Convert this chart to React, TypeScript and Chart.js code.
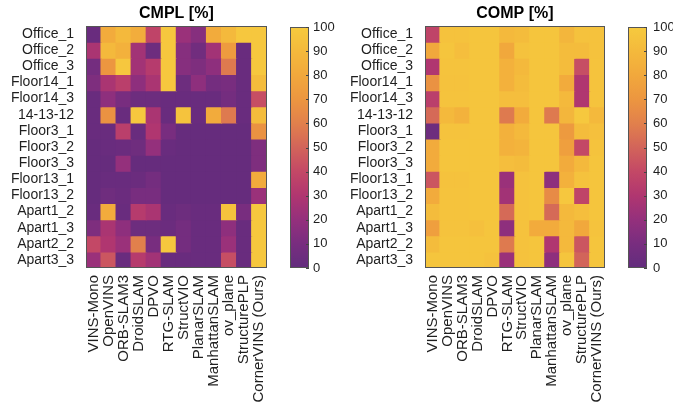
import { useEffect, useRef } from 'react';
import { Chart, registerables } from 'chart.js';
Chart.register(...registerables);

const methods = ['VINS-Mono', 'OpenVINS', 'ORB-SLAM3', 'DroidSLAM', 'DPVO', 'RTG-SLAM', 'StructVIO', 'PlanarSLAM', 'ManhattanSLAM', 'ov_plane', 'StructurePLP', 'CornerVINS (Ours)'];
const sequences = ['Office_1', 'Office_2', 'Office_3', 'Floor14_1', 'Floor14_3', '14-13-12', 'Floor3_1', 'Floor3_2', 'Floor3_3', 'Floor13_1', 'Floor13_2', 'Apart1_2', 'Apart1_3', 'Apart2_2', 'Apart3_3'];

// CMPL [%], one row per sequence, one value per method
const cmpl: number[][] = [
  [3, 82, 90, 83, 38, 98, 22, 15, 82, 90, 98, 98],
  [28, 90, 85, 25, 5, 98, 15, 7, 25, 73, 3, 98],
  [8, 70, 98, 25, 33, 98, 15, 12, 18, 58, 3, 98],
  [12, 28, 35, 18, 28, 98, 5, 18, 8, 10, 3, 92],
  [3, 18, 10, 5, 5, 3, 3, 3, 3, 8, 3, 42],
  [3, 68, 3, 98, 28, 3, 96, 3, 82, 58, 3, 92],
  [3, 3, 35, 3, 30, 10, 2, 2, 2, 2, 2, 68],
  [2, 3, 4, 6, 20, 3, 2, 2, 2, 2, 2, 12],
  [2, 2, 20, 2, 2, 2, 2, 2, 2, 2, 2, 12],
  [2, 3, 3, 4, 8, 2, 2, 2, 2, 2, 2, 82],
  [2, 6, 4, 10, 10, 2, 2, 2, 2, 2, 2, 22],
  [3, 82, 3, 33, 28, 3, 5, 3, 3, 95, 10, 98],
  [12, 28, 18, 5, 5, 4, 8, 3, 3, 18, 3, 98],
  [40, 30, 22, 60, 10, 98, 8, 3, 3, 22, 3, 98],
  [22, 45, 3, 33, 25, 3, 3, 3, 3, 42, 3, 98],
];

// COMP [%]
const comp: number[][] = [
  [38, 95, 95, 97, 97, 90, 92, 97, 97, 88, 95, 95],
  [80, 97, 93, 97, 97, 80, 95, 97, 97, 92, 92, 95],
  [30, 96, 96, 97, 97, 85, 90, 97, 97, 92, 42, 96],
  [68, 95, 95, 97, 97, 85, 92, 97, 97, 82, 30, 96],
  [35, 96, 96, 97, 97, 93, 93, 97, 97, 90, 30, 96],
  [52, 90, 86, 97, 97, 58, 82, 97, 58, 88, 99, 90],
  [5, 96, 96, 97, 97, 85, 90, 97, 97, 72, 92, 94],
  [82, 97, 97, 97, 97, 85, 87, 97, 97, 75, 40, 96],
  [82, 97, 97, 97, 97, 93, 92, 97, 97, 82, 90, 97],
  [45, 95, 95, 97, 97, 22, 95, 97, 18, 85, 95, 97],
  [82, 96, 96, 97, 97, 25, 95, 97, 65, 98, 38, 97],
  [92, 96, 96, 97, 97, 52, 95, 97, 52, 90, 93, 97],
  [75, 96, 96, 94, 97, 18, 95, 82, 82, 90, 80, 96],
  [92, 97, 97, 97, 97, 58, 95, 97, 30, 90, 45, 97],
  [97, 97, 97, 97, 95, 22, 95, 97, 18, 97, 50, 97],
];

const colorbarTicks = [0, 10, 20, 30, 40, 50, 60, 70, 80, 90, 100];

// colormap stops (style)
const cmapStops: [number, number, number][] = [
  [98, 44, 125], [120, 45, 127], [148, 48, 124], [176, 54, 112], [195, 72, 102],
  [210, 100, 90], [225, 128, 76], [236, 150, 64], [241, 168, 60], [244, 185, 60], [246, 202, 62],
];

function colormap(v: number): string {
  const t = Math.max(0, Math.min(100, v)) / 10;
  const i = Math.min(9, Math.floor(t));
  const f = t - i;
  const a = cmapStops[i], b = cmapStops[i + 1];
  const c = a.map((x, k) => Math.round(x + (b[k] - x) * f));
  return `rgb(${c[0]},${c[1]},${c[2]})`;
}

const FONT = 'Liberation Sans, Arial, Helvetica, sans-serif';
const TEXT = '#1f1f1f';

const framePlugin = {
  id: 'frame',
  afterDraw(chart: any) {
    const { ctx, chartArea: a } = chart;
    ctx.save();
    ctx.strokeStyle = '#555';
    ctx.lineWidth = 1;
    ctx.strokeRect(Math.round(a.left) + 0.5, Math.round(a.top) + 0.5, Math.round(a.right - a.left) - 1, Math.round(a.bottom - a.top) - 1);
    ctx.restore();
  },
};

const innerTickPlugin = {
  id: 'innerTicks',
  afterDraw(chart: any) {
    const { ctx, chartArea: a } = chart;
    const y = chart.scales.y;
    ctx.save();
    ctx.strokeStyle = '#444';
    ctx.lineWidth = 1;
    y.ticks.forEach((t: any) => {
      const py = Math.round(y.getPixelForValue(t.value)) + 0.5;
      ctx.beginPath();
      ctx.moveTo(a.right - 3, py);
      ctx.lineTo(a.right, py);
      ctx.stroke();
    });
    ctx.restore();
  },
};

function heatmapConfig(title: string, values: number[][], yWidth: number): any {
  return {
    type: 'bar',
    data: {
      labels: methods,
      datasets: sequences.map((name, i) => ({
        label: name,
        data: methods.map(() => [i, i + 1]),
        backgroundColor: values[i].map(colormap),
        borderWidth: 0,
        inflateAmount: 0.6,
        grouped: false,
        barPercentage: 1,
        categoryPercentage: 1,
      })),
    },
    options: {
      responsive: false,
      animation: false,
      layout: { padding: { left: 0, right: 5, top: 0, bottom: 0 } },
      plugins: {
        legend: { display: false },
        tooltip: { enabled: false },
        title: {
          display: true,
          text: title,
          fullSize: false,
          color: '#000',
          font: { family: FONT, size: 16, weight: 'bold', lineHeight: 1.2 },
          padding: { top: 4, bottom: 2.8 },
        },
      },
      scales: {
        x: {
          type: 'category',
          grid: { display: false, drawTicks: false },
          border: { display: false },
          ticks: { autoSkip: false, maxRotation: 90, minRotation: 90, padding: 7, color: TEXT, font: { family: FONT, size: 15 } },
          afterFit: (s: any) => { s.height = 138; },
        },
        y: {
          type: 'linear',
          min: 0,
          max: sequences.length,
          reverse: true,
          grid: { display: false, drawTicks: false },
          border: { display: false },
          afterBuildTicks: (s: any) => { s.ticks = sequences.map((_, i) => ({ value: i + 0.5 })); },
          afterFit: (s: any) => { s.width = yWidth; },
          ticks: { autoSkip: false, padding: 12, color: TEXT, font: { family: FONT, size: 14 }, callback: (_v: any, i: number) => sequences[i] },
        },
      },
    },
    plugins: [framePlugin],
  };
}

function colorbarConfig(axisWidth: number, pad: number): any {
  return {
    type: 'bar',
    data: {
      labels: [''],
      datasets: [{
        data: [[colorbarTicks[0], colorbarTicks[colorbarTicks.length - 1]]],
        backgroundColor: (ctx: any) => {
          const a = ctx.chart.chartArea;
          if (!a) return colormap(50);
          const g = ctx.chart.ctx.createLinearGradient(0, a.bottom, 0, a.top);
          for (let k = 0; k <= 20; k++) g.addColorStop(k / 20, colormap(k * 5));
          return g;
        },
        borderWidth: 0,
        barPercentage: 1,
        categoryPercentage: 1,
      }],
    },
    options: {
      responsive: false,
      animation: false,
      layout: { padding: { left: 5, right: 0, top: 27, bottom: 138 } },
      plugins: { legend: { display: false }, tooltip: { enabled: false } },
      scales: {
        x: { display: false },
        y: {
          position: 'right',
          min: 0,
          max: 100,
          grid: { display: false, drawTicks: false },
          border: { display: false },
          afterBuildTicks: (s: any) => { s.ticks = colorbarTicks.map((v) => ({ value: v })); },
          afterFit: (s: any) => { s.width = axisWidth; },
          ticks: { padding: pad, color: TEXT, font: { family: FONT, size: 13 } },
        },
      },
    },
    plugins: [framePlugin, innerTickPlugin],
  };
}

function ChartCanvas({ config, left, width }: { config: any; left: number; width: number }) {
  const ref = useRef<HTMLCanvasElement>(null);
  useEffect(() => {
    const chart = new Chart(ref.current as HTMLCanvasElement, config);
    return () => chart.destroy();
  }, []);
  return <canvas ref={ref} width={width} height={406} style={{ position: 'absolute', left, top: 0, width, height: 406 }} />;
}

export default function App() {
  return (
    <div style={{ position: 'fixed', left: 0, top: 0, width: 673, height: 406, background: '#fff', overflow: 'hidden' }}>
      <ChartCanvas config={heatmapConfig('CMPL [%]', cmpl, 86)} left={0} width={285} />
      <ChartCanvas config={colorbarConfig(31, 4)} left={285} width={55} />
      <ChartCanvas config={heatmapConfig('COMP [%]', comp, 85)} left={340} width={283} />
      <ChartCanvas config={colorbarConfig(26, 6)} left={623} width={50} />
    </div>
  );
}
